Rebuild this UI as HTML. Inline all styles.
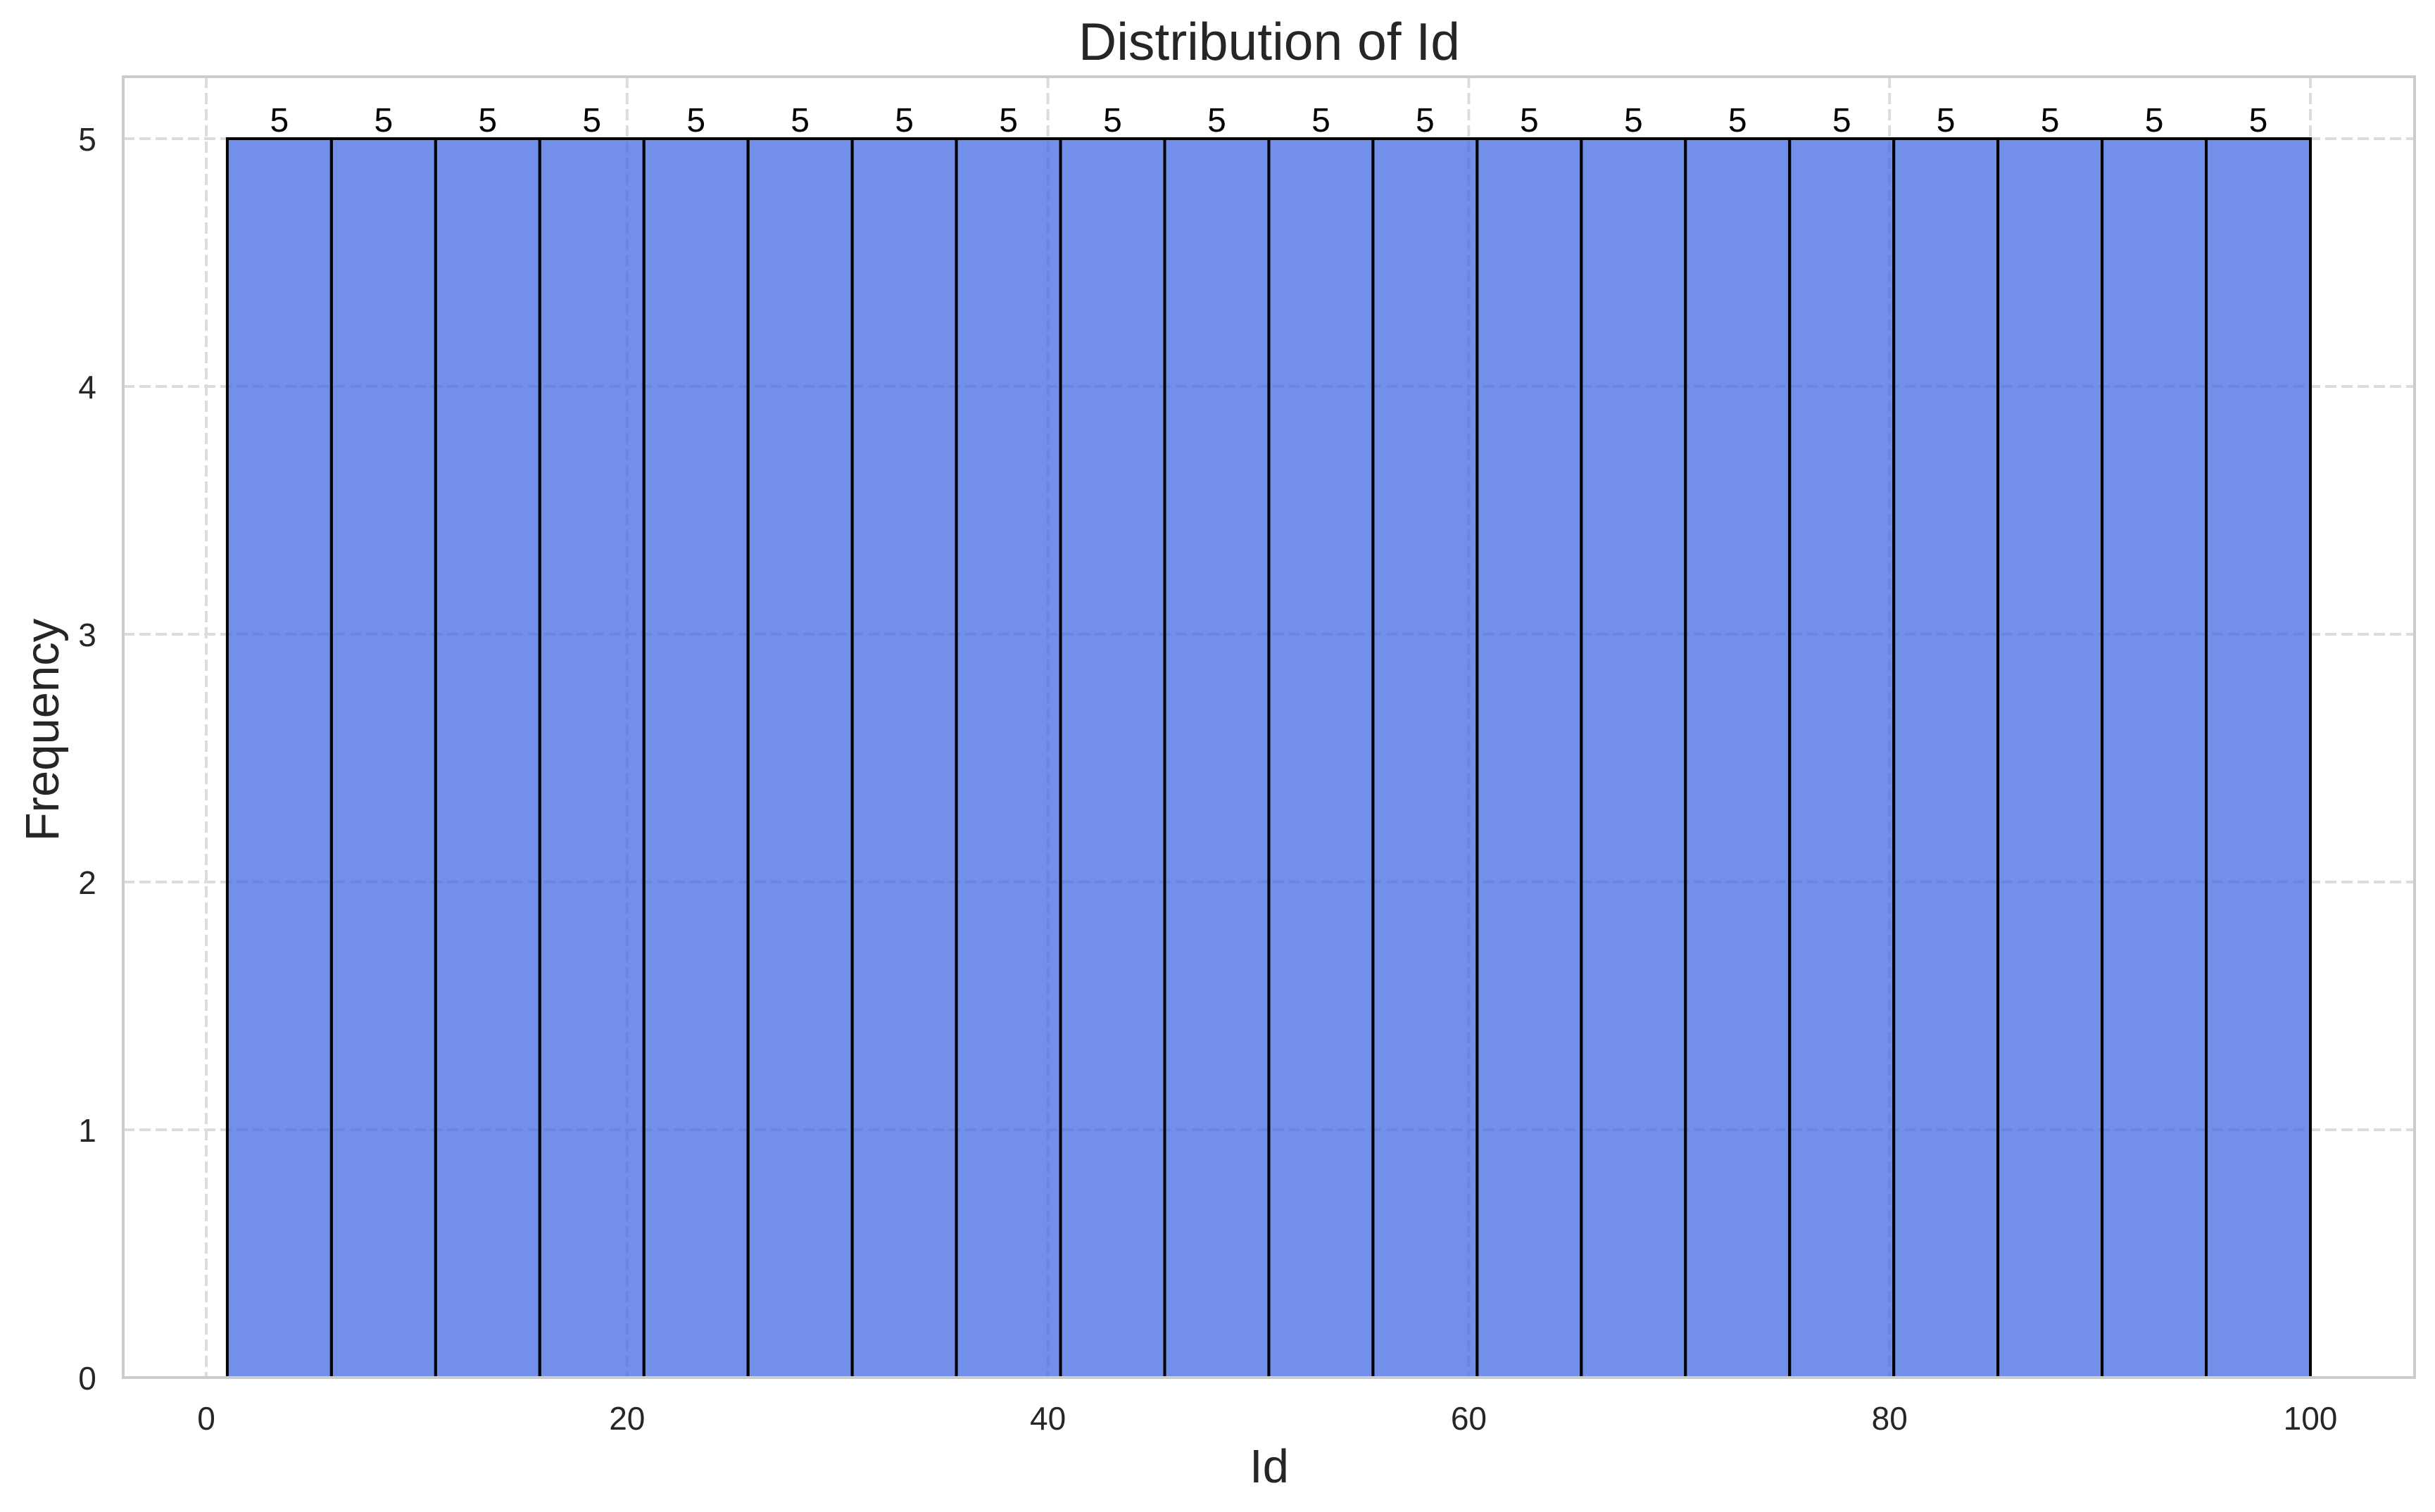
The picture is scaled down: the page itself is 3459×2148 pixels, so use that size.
<!DOCTYPE html>
<html><head><meta charset="utf-8"><style>body{margin:0;background:#fff}svg{display:block}text{font-family:"Liberation Sans",Arial,sans-serif}</style></head>
<body>
<svg id="chart" width="3459" height="2148" viewBox="0 0 3459 2148" xmlns="http://www.w3.org/2000/svg">
<rect width="3459" height="2148" fill="#fff"/>
<g id="grid"></g>
<g id="bars"></g>
<g id="labels"></g>
<rect x="175" y="109" width="3255" height="1848" fill="none" stroke="#cccccc" stroke-width="4"/>
<g id="ticks"></g>
<text x="1803" y="85" font-size="75" fill="#262626" text-anchor="middle">Distribution of Id</text>
<text x="1803" y="2106" font-size="67" fill="#262626" text-anchor="middle">Id</text>
<text x="83" y="1037" font-size="67" fill="#262626" text-anchor="middle" transform="rotate(-90 83 1037)">Frequency</text>
</svg>
<script>
const binStarts = [1,5.95,10.9,15.85,20.8,25.75,30.7,35.65,40.6,45.55,50.5,55.45,60.4,65.35,70.3,75.25,80.2,85.15,90.1,95.05];
const binWidth = 4.95;
const counts = [5,5,5,5,5,5,5,5,5,5,5,5,5,5,5,5,5,5,5,5];
const xTicks = [0,20,40,60,80,100];
const yTicks = [0,1,2,3,4,5];
const NS = "http://www.w3.org/2000/svg";
const X = v => 293 + (v - 0) * 29.89;
const Y = v => 1957 - v * 352;
function mk(tag, attrs, parent){const e=document.createElementNS(NS,tag);for(const k in attrs)e.setAttribute(k,attrs[k]);parent.appendChild(e);return e;}
const grid=document.getElementById('grid'),bars=document.getElementById('bars'),labels=document.getElementById('labels'),ticks=document.getElementById('ticks');
xTicks.forEach(t=>{
  const l=mk('line',{x1:X(t),x2:X(t),y1:109,y2:1957,stroke:'#dcdcdc','stroke-width':4,'stroke-dasharray':'16,7'},grid);
  
  
  const tx=mk('text',{x:X(t),y:2031,'font-size':46,fill:'#262626','text-anchor':'middle'},ticks);
  tx.textContent=t;
  
  
});
yTicks.forEach(t=>{
  const l=mk('line',{x1:175,x2:3430,y1:Y(t),y2:Y(t),stroke:'#dcdcdc','stroke-width':4,'stroke-dasharray':'16,7'},grid);
  
  
  const tx=mk('text',{x:124,y:Y(t)+17,'font-size':46,fill:'#262626','text-anchor':'middle'},ticks);
  tx.textContent=t;
  
  
});
binStarts.forEach((s,i)=>{
  const x0=X(s),x1=X(s+binWidth);
  const r=mk('rect',{x:x0,y:Y(counts[i]),width:x1-x0,height:Y(0)-Y(counts[i]),fill:'#4169e1','fill-opacity':0.74,stroke:'#000','stroke-width':4},bars);
  
  
  const tx=mk('text',{x:(x0+x1)/2,y:Y(counts[i])-10,'font-size':48,fill:'#000','text-anchor':'middle'},labels);
  tx.textContent=counts[i];
  
  
});
</script>
</body></html>
